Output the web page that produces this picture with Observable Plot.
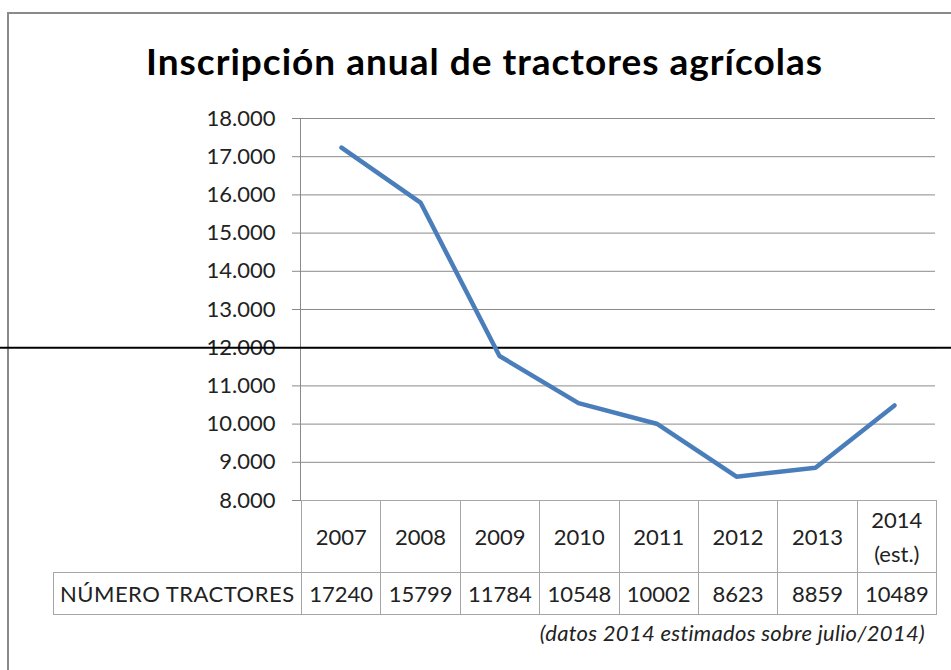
<!DOCTYPE html>
<html>
<head>
<meta charset="utf-8">
<script src="https://cdn.jsdelivr.net/npm/d3@7"></script>
<script src="https://cdn.jsdelivr.net/npm/@observablehq/plot@0.6"></script>
<style>
  html, body { margin: 0; padding: 0; background: #fff; overflow: hidden; width: 951px; height: 670px; }
  #wrap { position: relative; width: 951px; height: 670px; font-family: Lato, "Open Sans", sans-serif; color: #222; }
  #frame { position: absolute; left: 7px; top: 12px; width: 1000px; height: 700px; border: 2px solid #8a8a8a; box-sizing: border-box; }
  #title { position: absolute; left: 0; top: 41px; width: 969px; text-align: center; font-weight: 700; font-size: 37px; letter-spacing: 1px; line-height: 40px; color: #000; }
  #chart { position: absolute; left: 0; top: 0; }
  #tbl { position: absolute; left: 53px; top: 500px; border-collapse: collapse; table-layout: fixed; width: 883px; font-size: 22px; color: #222; }
  #tbl td { border: 1px solid #a6a6a6; text-align: center; padding: 0; line-height: 34px; }
  #tbl td.blank { border-left: none; border-top: none; }
  #tbl td.label { text-align: left; padding-left: 6px; white-space: nowrap; letter-spacing: 0.5px; }
  #caption { position: absolute; right: 26px; top: 619px; font-style: italic; font-size: 22px; color: #222; letter-spacing: 0.3px; }
</style>
</head>
<body>
<div id="wrap">
  <div id="frame"></div>
  <div id="chart"></div>
  <div id="title"></div>
  <table id="tbl"></table>
  <div id="caption"></div>
</div>
<script>
// ---- data ----
const titleText = "Inscripción anual de tractores agrícolas";
const years = ["2007", "2008", "2009", "2010", "2011", "2012", "2013", "2014"];
const yearLabels = ["2007", "2008", "2009", "2010", "2011", "2012", "2013", "2014\n(est.)"];
const tractors = [17240, 15799, 11784, 10548, 10002, 8623, 8859, 10489];
const seriesName = "NÚMERO TRACTORES";
const yTicks = [8000, 9000, 10000, 11000, 12000, 13000, 14000, 15000, 16000, 17000, 18000];
const markerLine = [12000];
const captionText = "(datos 2014 estimados sobre julio/2014)";

// ---- build ----
const data = years.map((y, i) => ({year: y, value: tractors[i]}));
const es = d3.formatLocale({decimal: ",", thousands: ".", grouping: [3], currency: ["", "€"]});
const fmt = es.format(",d");

document.getElementById("title").textContent = titleText;
document.getElementById("caption").textContent = captionText;

const chart = Plot.plot({
  width: 951,
  height: 520,
  marginLeft: 300,
  marginRight: 16,
  marginTop: 118,
  marginBottom: 20,
  style: {fontFamily: "Lato, 'Open Sans', sans-serif", fontSize: "22px", color: "#222", background: "transparent", overflow: "visible"},
  x: {type: "point", domain: years, padding: 0.5, axis: null},
  y: {domain: [8000, 18000], axis: null},
  marks: [
    Plot.gridY(yTicks, {stroke: "#8a8a8a", strokeOpacity: 1}),
    Plot.axisY(yTicks, {tickSize: 8, tickPadding: 17, tickFormat: fmt, stroke: "#8a8a8a", fill: "#222", fontSize: 22, label: null}),
    Plot.frame({anchor: "left", stroke: "#8a8a8a"}),
    Plot.ruleY(markerLine, {stroke: "#000", strokeWidth: 2, insetLeft: -300, insetRight: -16}),
    Plot.line(data, {x: "year", y: "value", stroke: "#4a7ebb", strokeWidth: 4.5, strokeLinejoin: "round"})
  ]
});
document.getElementById("chart").appendChild(chart);

// data table
const tbl = document.getElementById("tbl");
const colg = document.createElement("colgroup");
const c0 = document.createElement("col"); c0.style.width = "248px"; colg.appendChild(c0);
years.forEach(() => { const c = document.createElement("col"); c.style.width = "79.375px"; colg.appendChild(c); });
tbl.appendChild(colg);
const r1 = tbl.insertRow();
r1.style.height = "72px";
const b = r1.insertCell(); b.className = "blank";
yearLabels.forEach(l => { const c = r1.insertCell(); c.innerHTML = l.replace("\n", "<br>"); });
const r2 = tbl.insertRow();
r2.style.height = "42px";
const lc = r2.insertCell(); lc.className = "label"; lc.textContent = seriesName;
tractors.forEach(v => { const c = r2.insertCell(); c.textContent = String(v); });
</script>
</body>
</html>
